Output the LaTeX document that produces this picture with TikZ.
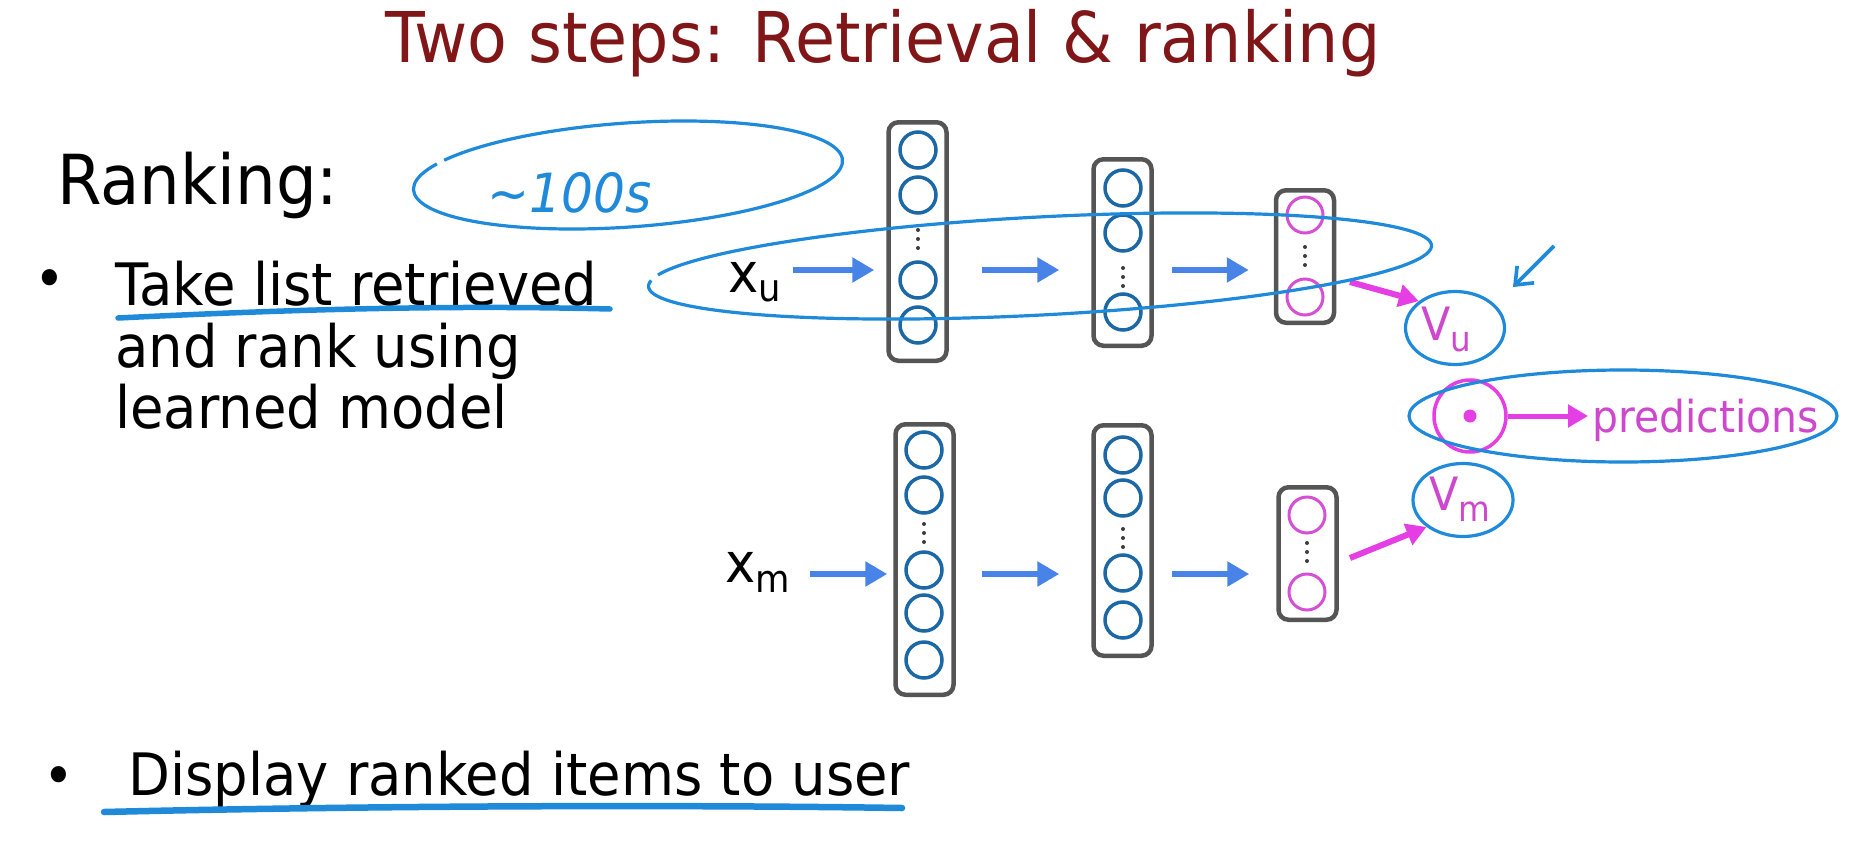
\documentclass[tikz,border=0pt]{standalone}
\usepackage{fontspec}
\setmainfont{DejaVu Sans}[FakeStretch=0.93]
\usetikzlibrary{arrows.meta,shapes.geometric}

\definecolor{titlered}{RGB}{128,22,24}
\definecolor{unitblue}{RGB}{28,104,165}
\definecolor{boxgray}{RGB}{85,85,85}
\definecolor{dotgray}{RGB}{60,60,60}
\definecolor{flowblue}{RGB}{72,132,232}
\definecolor{outmag}{RGB}{228,62,228}
\definecolor{textmag}{RGB}{206,72,206}
\definecolor{penblue}{RGB}{32,138,218}

\tikzset{
  layerbox/.style={draw=boxgray, line width=4.5pt, rounded corners=10pt,
    minimum width=58pt, inner sep=0pt},
  neuron/.style={circle, draw=unitblue, line width=3.5pt, minimum size=36pt, inner sep=0pt},
  outneuron/.style={neuron, draw={rgb,255:red,214;green,80;blue,214}, line width=3pt},
  flow/.style={draw=flowblue, line width=6.5pt, -{Triangle[length=22pt,width=24pt]}},
  magflow/.style={draw=outmag, line width=6pt, -{Triangle[length=20pt,width=22pt]}},
  penline/.style={draw=penblue, line width=3.2pt},
  penmark/.style={draw=penblue, line width=5.5pt, line cap=round},
  txt/.style={inner sep=0pt, anchor=base west},
  bodytext/.style={txt, font=\fontsize{58.5}{61.5}\selectfont},
  bulletmark/.style={inner sep=0pt, font=\fontsize{56}{56}\selectfont},
}

\begin{document}
\begin{tikzpicture}[x=1pt, y=-1pt]
\fill[white] (0,0) rectangle (1856,841);
\useasboundingbox (0,0) rectangle (1856,841);

% heading and bullet text
\node[inner sep=0pt, anchor=base, text=titlered, font=\fontsize{70}{80}\selectfont]
  (title) at (883,62) {Two steps: Retrieval \& ranking};
\node[txt, font=\fontsize{69}{75}\selectfont] (ranking) at (57,204) {Ranking:};
\node[bulletmark] (bul1) at (50,284) {\textbullet};
\node[bodytext] (b1a) at (115,305) {Take list retrieved};
\node[bodytext] (b1b) at (115,367) {and rank using};
\node[bodytext] (b1c) at (115,428) {learned model};
\node[bulletmark] (bul2) at (59,781) {\textbullet};
\node[bodytext] (b2) at (128,795) {Display ranked items to user};

% user tower
\node[layerbox, minimum height=238.5pt] (u1) at (917.5,241.5) {};
\node[layerbox, minimum height=186.5pt] (u2) at (1122.5,252.5) {};
\node[layerbox, minimum height=132.5pt] (u3) at (1305,256.5) {};
\foreach \y/\n in {150/a,195/b,280/c,325/d} \node[neuron] (u1\n) at (918,\y) {};
\foreach \y/\n in {188/a,233/b,312/c} \node[neuron] (u2\n) at (1123,\y) {};
\foreach \y/\n in {215/a,297/b} \node[outneuron] (u3\n) at (1305,\y) {};
\foreach \y in {230,239,248} \fill[dotgray] (918,\y) circle[radius=2pt];
\foreach \y in {268,277,286} \fill[dotgray] (1123,\y) circle[radius=2pt];
\foreach \y in {247,256,265} \fill[dotgray] (1305,\y) circle[radius=2pt];

% item tower
\node[layerbox, minimum height=270.5pt] (m1) at (924.5,559.5) {};
\node[layerbox, minimum height=230.5pt] (m2) at (1122.5,540.5) {};
\node[layerbox, minimum height=132.5pt] (m3) at (1307.5,553.5) {};
\foreach \y/\n in {450/a,495/b,570/c,613/d,660/e} \node[neuron] (m1\n) at (924,\y) {};
\foreach \y/\n in {455/a,498/b,573/c,620/d} \node[neuron] (m2\n) at (1123,\y) {};
\foreach \y/\n in {515/a,592/b} \node[outneuron] (m3\n) at (1307,\y) {};
\foreach \y in {524,533,542} \fill[dotgray] (924,\y) circle[radius=2pt];
\foreach \y in {529,538,547} \fill[dotgray] (1123,\y) circle[radius=2pt];
\foreach \y in {543,552,561} \fill[dotgray] (1307,\y) circle[radius=2pt];

% inputs
\node[txt, font=\fontsize{55}{60}\selectfont] (xu) at (728,292)
  {x\raisebox{-9pt}{\fontsize{38}{38}\selectfont u}};
\node[txt, font=\fontsize{55}{60}\selectfont] (xm) at (725,582)
  {x\raisebox{-10pt}{\fontsize{38}{38}\selectfont m}};
\coordinate (rowu) at (0,270);
\coordinate (rowm) at (0,574);

\draw[flow, shorten <=11.5pt, shorten >=12pt] (xu.east |- rowu) -- (u1.west |- rowu);
\draw[flow, shorten <=33pt, shorten >=32pt] (u1.east |- rowu) -- (u2.west |- rowu);
\draw[flow, shorten <=18pt, shorten >=25pt] (u2.east |- rowu) -- (u3.west |- rowu);
\draw[flow, shorten <=20pt, shorten >=6pt] (xm.east |- rowm) -- (m1.west |- rowm);
\draw[flow, shorten <=26pt, shorten >=32pt] (m1.east |- rowm) -- (m2.west |- rowm);
\draw[flow, shorten <=18pt, shorten >=27pt] (m2.east |- rowm) -- (m3.west |- rowm);

% output vectors and their dot product
\node[ellipse, penline, minimum width=99pt, minimum height=73pt, inner sep=0pt] (vu) at (1455,328) {};
\node[ellipse, penline, minimum width=100pt, minimum height=73pt, inner sep=0pt] (vm) at (1463,500) {};
\node[txt, text=textmag, font=\fontsize{46}{46}\selectfont] (vulab) at (1421,340)
  {V\raisebox{-11pt}{\fontsize{35}{35}\selectfont u}};
\node[txt, text=textmag, font=\fontsize{46}{46}\selectfont] (vmlab) at (1429,510)
  {V\raisebox{-11pt}{\fontsize{35}{35}\selectfont m}};

\coordinate (u3out) at (1350,282);
\coordinate (m3out) at (1350,558);
\draw[magflow] (u3out) -- (vu.north west);
\draw[magflow] (m3out) -- (vm.south west);

\node[circle, draw=outmag, line width=3.5pt, minimum size=72pt, inner sep=0pt] (dotp) at (1470,416) {};
\fill[outmag] (dotp.center) circle[radius=6.5pt];
\node[txt, text=textmag, font=\fontsize{44}{44}\selectfont] (pred) at (1592,432) {predictions};
\draw[magflow, line width=5pt, shorten >=4pt] (dotp.east) -- (dotp.east -| pred.west);

% pen annotations
\draw[penline, shift={(628,175)}, rotate=4]
  (212:215 and 52) arc[start angle=212, end angle=568, x radius=215, y radius=52];
\node[txt, text=penblue, font=\itshape\fontsize{54}{54}\selectfont] (hundreds) at (487,212)
  {\textasciitilde100s};
\draw[penline, shift={(1040,266)}, rotate=3]
  (193:392 and 49) arc[start angle=193, end angle=547, x radius=392, y radius=49];
\draw[penline] (1623,416) ellipse[x radius=214, y radius=46];
\coordinate (ptrA) at (1554,246);
\coordinate (ptrB) at (1513,287);
\draw[penline, line width=3.6pt, -{Straight Barb[length=15pt,width=24pt]}] (ptrA) -- (ptrB);
\draw[penmark] (118,318) .. controls (300,309) and (450,305) .. (610,309);
\draw[penmark, line width=6.5pt] (104,812) .. controls (400,805) and (700,805) .. (902,808);
\end{tikzpicture}
\end{document}
